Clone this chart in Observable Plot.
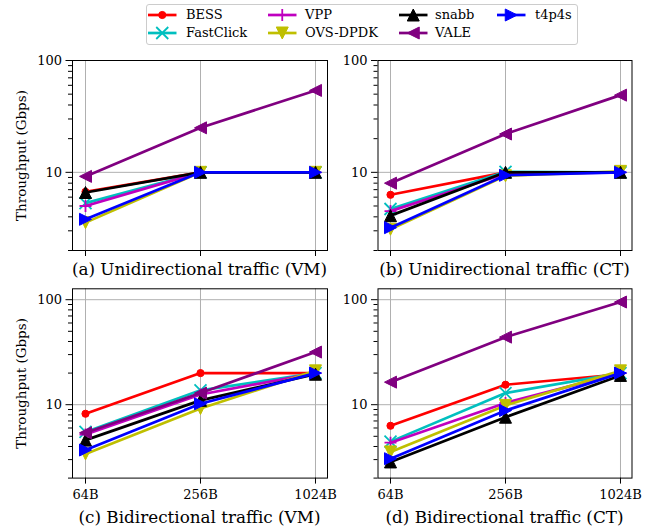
<!DOCTYPE html>
<html>
<head>
<meta charset="utf-8">
<script src="https://cdn.jsdelivr.net/npm/d3@7"></script>
<script src="https://cdn.jsdelivr.net/npm/@observablehq/plot@0.6"></script>
<style>
  html, body { margin: 0; padding: 0; background: #fff; }
  #fig { position: relative; width: 662px; height: 531px; font-family: "DejaVu Serif", serif; color: #000; overflow: hidden; }
  #fig svg { font-family: "DejaVu Serif", serif !important; font-size: 13px !important; overflow: visible !important; background: transparent !important; max-width: none !important; }
  #fig svg text { font-family: "DejaVu Serif", serif !important; }
  .title { position: absolute; font-size: 16.8px; line-height: 16.8px; white-space: nowrap; transform: translateX(-50%); }
  .ltext { position: absolute; font-size: 13px; line-height: 16px; white-space: nowrap; }
  #legendbox { position: absolute; border: 1px solid #cccccc; border-radius: 3px; background: #fff; box-sizing: border-box; }
</style>
</head>
<body>
<div id="fig"><div id="legendbox"></div></div>
<script>
// ---------- data ----------
const sizes = ["64B", "256B", "1024B"];
const systems = ["BESS", "FastClick", "VPP", "OVS-DPDK", "snabb", "VALE", "t4p4s"];
const colors = ["#ff0000", "#00bfbf", "#bf00bf", "#bfbf00", "#000000", "#800080", "#0000ff"];
const markers = ["o", "x", "+", "v", "^", "<", ">"];

// values per system (rows, in the order of `systems`), per packet size (columns)
const uniVM = [
  [6.7, 10, 10],
  [5.3, 10, 10],
  [5.0, 10, 10],
  [3.55, 10, 10],
  [6.6, 10, 10],
  [9.2, 25, 54],
  [3.8, 10, 10]
];
const uniCT = [
  [6.3, 10, 10],
  [4.7, 10.1, 10],
  [4.5, 9.7, 10],
  [3.1, 9.3, 10.2],
  [4.1, 10, 10],
  [8.0, 22, 49],
  [3.2, 9.4, 10]
];
const biVM = [
  [8.2, 20, 20],
  [5.5, 13.7, 20],
  [5.2, 12.5, 20],
  [3.4, 9.2, 21],
  [4.6, 11, 19.5],
  [5.4, 12.9, 31.7],
  [3.7, 10.2, 20]
];
const biCT = [
  [6.3, 15.5, 19.5],
  [4.45, 12.9, 20],
  [4.35, 10.4, 20],
  [3.55, 9.85, 21],
  [2.85, 7.6, 19],
  [16.4, 44, 95],
  [3.06, 8.8, 20]
];
const yMajor = [10, 100];
const yMinor = [2, 3, 4, 5, 6, 7, 8, 9, 20, 30, 40, 50, 60, 70, 80, 90];
const titles = ["(a) Unidirectional traffic (VM)", "(b) Unidirectional traffic (CT)",
                "(c) Bidirectional traffic (VM)", "(d) Bidirectional traffic (CT)"];
const yLabel = "Throughput (Gbps)";

// ---------- marker shapes (matplotlib-like) ----------
function makeSymbol(kind) {
  return {
    draw(ctx, size) {
      const r = Math.sqrt(size / Math.PI);
      switch (kind) {
        case "o": ctx.moveTo(r, 0); ctx.arc(0, 0, r, 0, 2 * Math.PI); ctx.closePath(); break;
        case "x": ctx.moveTo(-r, -r); ctx.lineTo(r, r); ctx.moveTo(-r, r); ctx.lineTo(r, -r); break;
        case "+": ctx.moveTo(-r, 0); ctx.lineTo(r, 0); ctx.moveTo(0, -r); ctx.lineTo(0, r); break;
        case "^": ctx.moveTo(0, -r); ctx.lineTo(r, r); ctx.lineTo(-r, r); ctx.closePath(); break;
        case "v": ctx.moveTo(0, r); ctx.lineTo(r, -r); ctx.lineTo(-r, -r); ctx.closePath(); break;
        case "<": ctx.moveTo(-r, 0); ctx.lineTo(r, -r); ctx.lineTo(r, r); ctx.closePath(); break;
        case ">": ctx.moveTo(r, 0); ctx.lineTo(-r, -r); ctx.lineTo(-r, r); ctx.closePath(); break;
      }
    }
  };
}
function markerStyle(kind, color) {
  if (kind === "o") return {r: 3.6, fill: color, stroke: color, strokeWidth: 1};
  if (kind === "x" || kind === "+") return {r: 6, fill: "none", stroke: color, strokeWidth: 1.8};
  return {r: 6, fill: color, stroke: color, strokeWidth: 1};
}
const LW = 2.7;
const FONT = "DejaVu Serif";

const fig = document.getElementById("fig");

// ---------- panels ----------
function panel(data, idx) {
  const col = idx % 2, row = Math.floor(idx / 2);
  const svgLeft = col === 0 ? 0 : 331;
  const svgTop = row === 0 ? 50 : 278;
  const mL = col === 0 ? 72 : 46.5;
  const mR = col === 0 ? 4 : 30.5;
  const mT = row === 0 ? 10 : 10.3;
  const frameH = row === 0 ? 190 : 189.3;
  const mB = row === 0 ? 12 : 30;
  const domainY = row === 0 ? [2, 100] : [2, 127];
  const showX = row === 1;

  const marks = [
    Plot.gridX({stroke: "#b0b0b0", strokeOpacity: 1, strokeWidth: 1}),
    Plot.gridY({ticks: yMajor, stroke: "#b0b0b0", strokeOpacity: 1, strokeWidth: 1})
  ];
  systems.forEach((s, i) => {
    const pts = sizes.map((sz, j) => ({size: sz, value: data[i][j], system: s}));
    marks.push(Plot.line(pts, {x: "size", y: "value", stroke: colors[i], strokeWidth: LW, strokeLinejoin: "round"}));
    marks.push(Plot.dot(pts, {x: "size", y: "value", symbol: makeSymbol(markers[i]), ...markerStyle(markers[i], colors[i])}));
  });
  marks.push(
    Plot.axisY({ticks: yMajor, tickSize: 6.5, tickPadding: 4, tickFormat: d => String(d), label: null, fontFamily: FONT, fontSize: 13}),
    Plot.axisY({ticks: yMinor, tickSize: 4, tickFormat: () => "", label: null}),
    Plot.axisX({tickSize: 6, tickPadding: 6, tickFormat: showX ? (d => d) : (() => ""), label: null, fontFamily: FONT, fontSize: 13}),
    Plot.frame({stroke: "black", strokeWidth: 1})
  );
  if (col === 0) {
    marks.push(Plot.text([yLabel], {frameAnchor: "left", dx: -51, rotate: -90, textAnchor: "middle", fontSize: 13.5, fontFamily: FONT}));
  }

  const chart = Plot.plot({
    width: 331,
    height: mT + frameH + mB,
    marginLeft: mL, marginRight: mR, marginTop: mT, marginBottom: mB,
    x: {type: "point", domain: sizes, padding: 0.1, label: null},
    y: {type: "log", domain: domainY, label: null},
    style: {fontFamily: FONT, fontSize: "13px", background: "transparent", color: "black", overflow: "visible"},
    marks
  });
  chart.style.position = "absolute";
  chart.style.left = svgLeft + "px";
  chart.style.top = svgTop + "px";
  fig.appendChild(chart);

  const t = document.createElement("div");
  t.className = "title";
  t.textContent = titles[idx];
  t.style.left = (svgLeft + mL + (331 - mL - mR) / 2) + "px";
  t.style.top = (row === 0 ? 260.8 : 509.3) + "px";
  fig.appendChild(t);
}
[uniVM, uniCT, biVM, biCT].forEach((d, i) => panel(d, i));

// ---------- legend ----------
const box = document.getElementById("legendbox");
box.style.left = "145.5px"; box.style.top = "4px"; box.style.width = "432px"; box.style.height = "41px";
const lineStarts = [148, 268, 399, 497];
const textStarts = [186, 305, 435, 535];
const rowCenters = [15, 33.3];
systems.forEach((s, i) => {
  const c = Math.floor(i / 2), r = i % 2;
  const svg = d3.create("svg").attr("width", 30).attr("height", 18)
    .style("position", "absolute").style("left", lineStarts[c] + "px").style("top", (rowCenters[r] - 9) + "px").style("overflow", "visible");
  svg.append("line").attr("x1", 0).attr("x2", 28.5).attr("y1", 9).attr("y2", 9)
    .attr("stroke", colors[i]).attr("stroke-width", LW);
  const st = markerStyle(markers[i], colors[i]);
  const p = d3.path();
  makeSymbol(markers[i]).draw(p, st.r * st.r * Math.PI);
  svg.append("path").attr("d", p.toString()).attr("transform", "translate(14.25,9)")
    .attr("fill", st.fill).attr("stroke", st.stroke).attr("stroke-width", st.strokeWidth);
  fig.appendChild(svg.node());
  const tx = document.createElement("div");
  tx.className = "ltext";
  tx.textContent = s;
  tx.style.left = textStarts[c] + "px";
  tx.style.top = (rowCenters[r] - 8) + "px";
  fig.appendChild(tx);
});
</script>
</body>
</html>
